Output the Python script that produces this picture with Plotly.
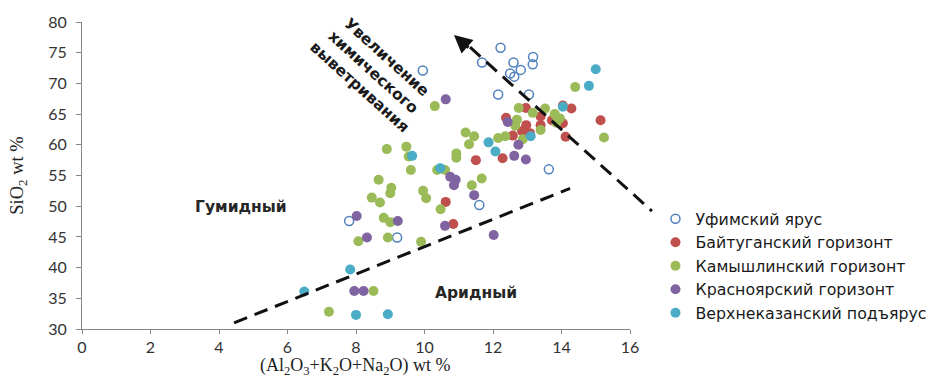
import plotly.graph_objects as go

# ---------------- data ----------------
ufa_x = [12.22, 11.68, 12.60, 13.17, 13.16, 12.81, 12.50, 12.62, 12.15, 13.05, 13.63, 9.95, 7.80, 11.60, 9.20]
ufa_y = [75.8, 73.4, 73.4, 74.3, 73.1, 72.2, 71.6, 71.1, 68.2, 68.2, 56.0, 72.1, 47.6, 50.2, 44.9]

bait_x = [14.04, 14.29, 12.38, 12.96, 13.39, 12.97, 12.85, 12.58, 13.39, 14.04, 13.72, 14.12, 15.14, 12.28, 11.50, 10.62, 10.84, 13.08]
bait_y = [66.4, 65.9, 64.4, 66.0, 64.6, 63.2, 62.2, 61.5, 63.2, 63.5, 64.0, 61.3, 64.0, 57.8, 57.5, 50.7, 47.1, 61.9]

kam_x = [10.30, 11.20, 11.45, 11.30, 8.90, 9.47, 9.54, 9.60, 10.37, 10.60, 10.93, 10.93, 8.66, 11.67,
         11.38, 9.96, 10.05, 9.03, 9.00, 8.46, 8.70, 8.81, 9.00, 8.93, 9.90, 10.47, 8.07, 8.51, 7.21,
         12.15, 12.36, 14.40, 12.75, 13.52, 13.80, 13.95, 13.85, 13.16, 12.70, 12.65, 13.39, 12.87, 15.24]
kam_y = [66.3, 62.0, 61.4, 60.1, 59.3, 59.7, 58.1, 55.9, 55.9, 55.9, 58.6, 57.9, 54.3, 54.5,
         53.4, 52.5, 51.3, 53.0, 52.1, 51.4, 50.6, 48.1, 47.4, 44.9, 44.2, 49.5, 44.3, 36.2, 32.8,
         61.1, 61.4, 69.4, 66.0, 65.9, 65.0, 64.3, 63.6, 65.2, 64.1, 63.1, 62.4, 60.9, 61.2]

kras_x = [10.62, 10.75, 10.91, 10.86, 11.45, 10.60, 12.02, 9.22, 8.02, 8.32, 7.95, 8.22, 12.43, 12.74, 12.62, 12.96]
kras_y = [67.4, 54.8, 54.3, 53.4, 51.8, 46.8, 45.3, 47.6, 48.4, 44.9, 36.2, 36.2, 63.7, 60.0, 58.2, 57.6]

vk_x = [15.00, 14.80, 14.04, 11.87, 12.07, 13.10, 10.46, 9.64, 7.83, 6.49, 8.00, 8.93]
vk_y = [72.3, 69.6, 66.2, 60.4, 58.9, 61.4, 56.2, 58.2, 39.7, 36.1, 32.3, 32.4]

series_names = ["Уфимский ярус", "Байтуганский горизонт", "Камышлинский горизонт",
                "Красноярский горизонт", "Верхнеказанский подъярус"]

x_ticks = [0, 2, 4, 6, 8, 10, 12, 14, 16]
y_ticks = [30, 35, 40, 45, 50, 55, 60, 65, 70, 75, 80]

x_title = "(Al<sub>2</sub>O<sub>3</sub>+K<sub>2</sub>O+Na<sub>2</sub>O) wt %"
y_title = "SiO<sub>2</sub> wt %"

# boundary line (humid / arid) and weathering-trend arrow, in data units
bound_x = [4.44, 14.25]
bound_y = [31.0, 52.9]
arrow_x = [11.33, 16.64]
arrow_y = [75.9, 49.2]
arrow_tip = (10.86, 77.9)

X_RANGE = [0, 16]
Y_RANGE = [30, 80]

colors = ["#4F81BD", "#C0504D", "#9BBB59", "#8064A2", "#4BACC6"]

fig = go.Figure()
fig.add_trace(go.Scatter(x=ufa_x, y=ufa_y, mode="markers", name=series_names[0],
                         marker=dict(symbol="circle-open", size=9, color=colors[0],
                                     line=dict(width=1.5, color=colors[0]))))
for xs, ys, nm, c in [(bait_x, bait_y, series_names[1], colors[1]),
                      (kam_x, kam_y, series_names[2], colors[2]),
                      (kras_x, kras_y, series_names[3], colors[3]),
                      (vk_x, vk_y, series_names[4], colors[4])]:
    fig.add_trace(go.Scatter(x=xs, y=ys, mode="markers", name=nm,
                             marker=dict(symbol="circle", size=10, color=c)))


def to_paper(x, y):
    return ((x - X_RANGE[0]) / (X_RANGE[1] - X_RANGE[0]),
            (y - Y_RANGE[0]) / (Y_RANGE[1] - Y_RANGE[0]))


dash = "14px,8px"
fig.add_shape(type="line", xref="x", yref="y",
              x0=bound_x[0], y0=bound_y[0], x1=bound_x[1], y1=bound_y[1],
              line=dict(color="#111111", width=3, dash=dash))
p0 = to_paper(arrow_x[0], arrow_y[0])
p1 = to_paper(arrow_x[1], arrow_y[1])
fig.add_shape(type="line", xref="paper", yref="paper",
              x0=p0[0], y0=p0[1], x1=p1[0], y1=p1[1],
              line=dict(color="#111111", width=3, dash=dash))
fig.add_annotation(x=arrow_tip[0], y=arrow_tip[1], xref="x", yref="y",
                   ax=16, ay=14, text="", showarrow=True, arrowhead=2,
                   arrowsize=1.2, arrowwidth=3, arrowcolor="#111111", standoff=0)

fig.add_annotation(x=8.5, y=71.9, xref="x", yref="y", showarrow=False,
                   text="Увеличение<br>химического<br>выветривания", textangle=42,
                   font=dict(family="DejaVu Sans", size=15.5, color="#1a1a1a", weight="bold"),
                   align="center")
fig.add_annotation(x=4.64, y=49.9, xref="x", yref="y", showarrow=False, text="Гумидный",
                   font=dict(family="DejaVu Sans", size=15.5, color="#262626", weight="bold"))
fig.add_annotation(x=11.5, y=35.9, xref="x", yref="y", showarrow=False, text="Аридный",
                   font=dict(family="DejaVu Sans", size=15.5, color="#262626", weight="bold"))

# x-axis title placed just under the tick labels
fig.add_annotation(x=0.498, y=-0.167, xref="paper", yref="paper", showarrow=False,
                   text=x_title, xanchor="center", yanchor="bottom",
                   font=dict(family="Liberation Serif", size=18, color="#222222"))

axis_common = dict(showgrid=False, zeroline=False, showline=True, linecolor="#868686",
                   linewidth=1, ticks="outside", tickcolor="#868686",
                   automargin=False,
                   tickfont=dict(family="Lato", size=16, color="#333333"))

fig.update_layout(
    width=931, height=380,
    margin=dict(l=82, r=301, t=22, b=51, autoexpand=False),
    paper_bgcolor="white", plot_bgcolor="white",
    xaxis=dict(range=X_RANGE, tickvals=x_ticks, ticklen=4, ticklabelstandoff=0, **axis_common),
    yaxis=dict(range=Y_RANGE, tickvals=y_ticks, ticklen=5, ticklabelstandoff=6, **axis_common,
               title=dict(text=y_title,
                          font=dict(family="Liberation Serif", size=18.5, color="#222222"),
                          standoff=19)),
    legend=dict(x=1.0465, y=0.414, xanchor="left", yanchor="top",
                font=dict(family="DejaVu Sans", size=15.8, color="#1a1a1a"),
                bgcolor="rgba(0,0,0,0)", tracegroupgap=0),
    showlegend=True,
)

fig.write_html("out.html")
